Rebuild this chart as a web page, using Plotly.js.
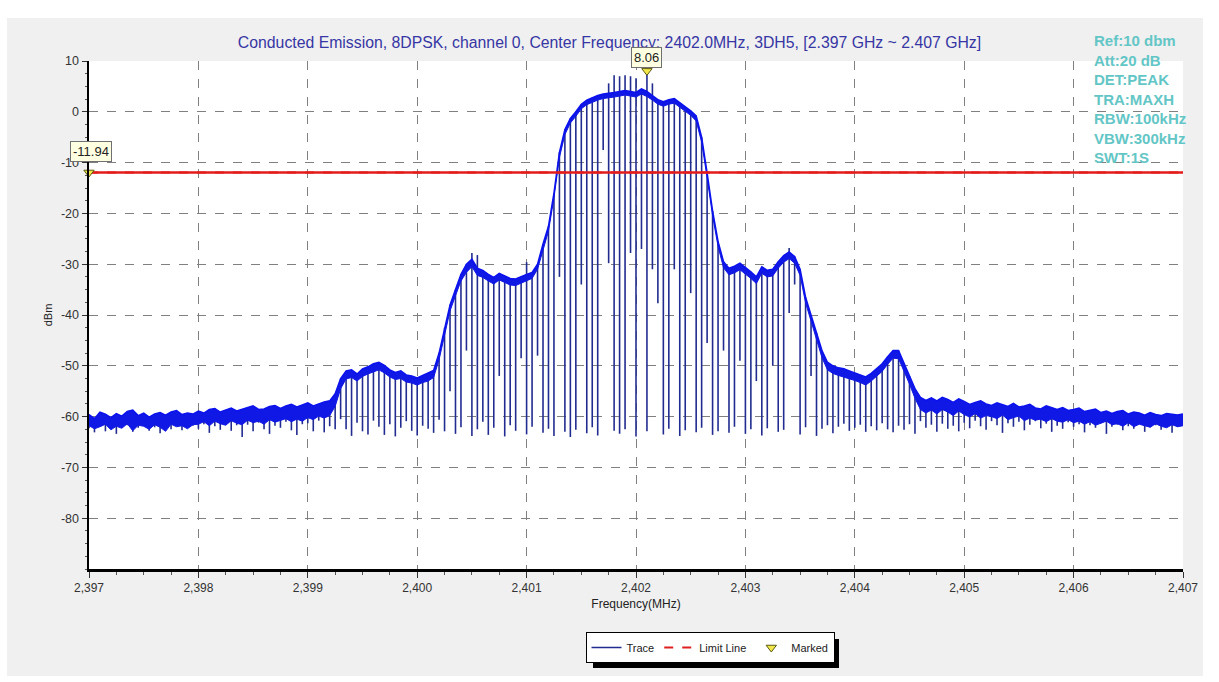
<!DOCTYPE html>
<html><head><meta charset="utf-8">
<script src="https://cdn.plot.ly/plotly-3.0.1.min.js"></script>
<style>html,body{margin:0;padding:0;background:#fff}#chart{width:1219px;height:682px}</style>
</head><body><div id="chart"></div>
<script>
// ---- sweep grid (analyzer sample points) ----
const sweepStartMHz = 2397.0;
const sweepStepMHz = 0.05;

// ---- upper edge of the trace band, one value per sample (dBm) ----
const envelopeDbm = [
 -59.6,-60.4,-59.1,-59.5,-60.2,-59.4,-59.9,-59.0,-58.7,-59.8,-59.3,-60.1,-59.5,-59.2,-59.7,-59.1,-58.8,-59.6,-59.3,-59.5,
 -58.9,-59.3,-58.6,-58.4,-59.1,-58.7,-58.3,-58.9,-58.6,-58.2,-57.9,-58.6,-58.5,-58.0,-57.8,-58.4,-57.9,-57.6,-58.1,-57.7,
 -57.3,-57.9,-57.5,-57.1,-56.9,-55.5,-52.5,-51.0,-50.8,-51.6,-50.6,-50.2,-49.6,-49.3,-49.9,-50.8,-51.3,-51.0,-51.8,-52.0,
 -52.4,-51.9,-51.5,-50.9,-47.5,-42.5,-38.0,-35.0,-32.0,-30.0,-29.0,-30.8,-31.2,-32.0,-32.6,-31.8,-32.3,-32.8,-32.9,-32.4,
 -32.0,-31.6,-30.0,-26.0,-22.5,-16.0,-8.0,-3.5,-1.3,0.0,1.5,2.3,2.8,3.2,3.5,3.6,3.8,4.0,4.2,4.0,
 3.8,4.5,4.0,3.2,2.4,2.0,2.4,2.6,1.8,1.0,0.2,-0.8,-5.0,-12.0,-19.5,-25.5,-29.5,-30.8,-30.4,-29.8,
 -30.6,-31.5,-32.5,-30.5,-31.2,-31.0,-29.5,-28.3,-27.6,-28.5,-31.0,-36.5,-40.0,-43.5,-47.0,-49.3,-50.0,-50.4,-50.6,-51.0,
 -51.4,-51.8,-52.2,-51.5,-50.6,-49.6,-48.2,-47.0,-47.0,-49.5,-52.0,-54.5,-56.2,-56.8,-56.3,-56.9,-56.2,-56.6,-57.2,-56.5,
 -57.0,-57.6,-57.2,-56.9,-57.5,-57.8,-57.3,-57.6,-58.0,-57.4,-58.1,-57.9,-57.6,-58.3,-58.5,-57.9,-58.2,-58.6,-58.2,-58.8,
 -58.6,-58.3,-59.0,-58.7,-58.5,-59.2,-58.9,-59.4,-59.0,-58.8,-59.5,-59.1,-59.3,-59.7,-59.2,-59.6,-59.8,-59.4,-59.6,-59.7,
 -59.5
];

// ---- lower edge of the solid trace band, one value per sample (dBm) ----
const bandLowDbm = [
 -61.8,-62.4,-62.0,-61.5,-62.6,-61.9,-62.3,-61.4,-62.8,-61.7,-61.9,-62.5,-61.6,-62.1,-62.9,-61.5,-62.0,-61.8,-62.4,-61.6,
 -61.5,-61.0,-61.8,-60.9,-61.4,-61.7,-60.8,-61.3,-61.6,-60.7,-61.2,-60.9,-61.5,-60.6,-61.1,-60.8,-60.4,-61.0,-60.5,-60.9,
 -60.2,-60.6,-59.9,-60.3,-59.8,-58.0,-54.5,-52.6,-52.3,-53.0,-52.1,-51.6,-51.2,-50.8,-51.4,-52.2,-52.7,-52.5,-53.2,-53.4,
 -53.8,-53.3,-53.0,-52.3,-48.8,-43.8,-39.2,-36.2,-33.3,-31.6,-30.5,-32.2,-32.6,-33.3,-33.9,-33.1,-33.6,-34.1,-34.2,-33.7,
 -33.2,-32.8,-31.0,-27.0,-23.5,-17.0,-9.0,-4.5,-2.2,-0.9,0.6,1.4,1.9,2.3,2.6,2.7,2.9,3.1,3.3,3.1,
 2.9,3.5,3.0,2.3,1.5,1.1,1.5,1.7,0.9,0.1,-0.7,-1.8,-6.0,-13.0,-20.5,-26.5,-30.7,-32.1,-31.7,-31.1,
 -31.9,-32.8,-33.8,-31.8,-32.5,-32.3,-30.8,-29.6,-28.9,-29.8,-32.2,-37.6,-41.2,-44.8,-48.4,-50.8,-51.5,-51.9,-52.2,-52.5,
 -52.9,-53.3,-53.8,-53.0,-52.1,-51.1,-49.7,-48.5,-48.6,-51.0,-53.6,-56.4,-58.6,-59.3,-58.7,-59.5,-58.6,-59.1,-59.8,-58.9,
 -59.6,-60.1,-59.4,-60.3,-59.8,-60.0,-60.4,-59.7,-60.6,-60.2,-59.9,-60.8,-60.3,-60.7,-60.5,-61.0,-60.4,-60.9,-61.1,-60.6,
 -61.2,-60.9,-61.5,-61.0,-61.7,-61.3,-60.9,-61.6,-61.4,-61.9,-61.2,-62.0,-61.5,-61.8,-62.1,-61.4,-61.9,-62.2,-61.6,-62.0,
 -61.8
];

// ---- bottom of the vertical trace line at each sample (dBm) ----
const dipDbm = [
 -62.3,-63.1,-61.8,-62.9,-61.5,-63.4,-62.0,-61.7,-63.0,-62.2,-61.6,-62.8,-62.1,-63.3,-61.9,-62.5,-61.4,-62.7,-62.0,-61.8,
 -62.4,-61.5,-63.2,-61.9,-62.6,-61.3,-62.8,-61.7,-64.0,-61.6,-62.9,-61.2,-62.5,-63.4,-61.8,-62.2,-61.0,-62.7,-63.6,-61.5,
 -61.3,-62.9,-60.8,-63.1,-61.9,-62.5,-60.5,-62.5,-63.8,-61.2,-62.9,-63.5,-60.8,-62.0,-63.6,-61.5,-63.9,-62.2,-60.9,-62.8,
 -63.7,-61.8,-62.4,-63.2,-60.6,-62.9,-55.0,-63.4,-62.1,-47.0,-63.8,-62.5,-61.0,-63.6,-62.2,-52.0,-63.9,-61.7,-62.8,-48.5,
 -63.5,-62.0,-48.0,-63.2,-62.4,-63.8,-32.5,-63.0,-64.0,-62.6,-34.0,-63.3,-62.1,-63.7,-7.5,-29.8,-62.8,-63.4,-62.5,-27.8,
 -63.9,-27.0,-62.9,-31.0,-37.7,-63.5,-62.4,-31.0,-63.8,-62.7,-35.7,-63.1,-62.2,-45.5,-63.6,-62.9,-47.0,-63.2,-62.0,-49.0,
 -63.4,-62.5,-53.0,-63.7,-62.3,-50.0,-63.0,-62.6,-39.6,-34.0,-63.5,-62.1,-52.0,-63.8,-62.4,-61.7,-63.3,-62.0,-61.4,-62.8,
 -62.2,-61.6,-63.0,-61.9,-62.7,-61.3,-62.5,-63.1,-61.8,-62.6,-61.5,-63.4,-60.9,-62.2,-61.6,-63.0,-61.4,-62.4,-61.8,-62.9,
 -61.2,-62.3,-60.8,-61.9,-62.6,-60.9,-61.7,-63.2,-61.3,-62.0,-61.0,-62.7,-61.6,-60.9,-62.3,-61.4,-63.0,-61.8,-62.4,-61.1,
 -62.0,-61.5,-63.1,-61.7,-62.2,-61.3,-63.4,-62.0,-61.6,-62.7,-61.9,-62.4,-61.2,-63.0,-62.1,-61.7,-62.6,-61.5,-63.2,-62.0,
 -61.6
];

// ---- narrow upward spikes above the envelope ----
const spikeFreqMHz = [2400.50, 2400.55, 2401.00, 2401.75, 2401.80, 2401.85, 2401.90, 2401.95, 2402.00, 2402.10, 2402.15, 2403.40];
const spikeDbm     = [-27.8,   -28.2,   -29.6,   5.6,     7.2,     7.0,     7.2,     7.0,     6.6,     8.06,    5.6,     -26.8];

// ---- limit line and markers ----
const limitDbm = -11.94;
const markFreqMHz = [2397.0, 2402.10];
const markDbm = [-11.94, 8.06];
const markLabels = ['-11.94', '8.06'];

// ---- axis ticks ----
const xTickVals = [2397, 2398, 2399, 2400, 2401, 2402, 2403, 2404, 2405, 2406, 2407];
const xTickLabels = ['2,397', '2,398', '2,399', '2,400', '2,401', '2,402', '2,403', '2,404', '2,405', '2,406', '2,407'];
const yTickVals = [10, 0, -10, -20, -30, -40, -50, -60, -70, -80];
const yTickLabels = ['10', '0', '-10', '-20', '-30', '-40', '-50', '-60', '-70', '-80'];

// ---- texts ----
const titleText = 'Conducted Emission, 8DPSK, channel 0, Center Frequency: 2402.0MHz, 3DH5, [2.397 GHz ~ 2.407 GHz]';
const analyzerSettings = ['Ref:10 dbm', 'Att:20 dB', 'DET:PEAK', 'TRA:MAXH', 'RBW:100kHz', 'VBW:300kHz', 'SWT:1S'];

// ===== build traces =====
const freqMHz = envelopeDbm.map((_, i) => +(sweepStartMHz + i * sweepStepMHz).toFixed(2));
const spikeAt = {};
spikeFreqMHz.forEach((f, k) => { spikeAt[Math.round((f - sweepStartMHz) / sweepStepMHz)] = spikeDbm[k]; });

const vx = [], vy = [];
freqMHz.forEach((f, i) => {
  const top = (spikeAt[i] !== undefined) ? Math.max(spikeAt[i], envelopeDbm[i]) : envelopeDbm[i];
  vx.push(f, f, null);
  vy.push(top, dipDbm[i], null);
});

const FONT = 'Liberation Sans, Arial, sans-serif';
const W = 1219, H = 682, L = 89, R = 36, T = 61, B = 113;
const pw = W - L - R, ph = H - T - B;
const px2x = p => (p - L) / pw;
const py2y = p => (H - B - p) / ph;
const xEnds = [xTickVals[0], xTickVals[xTickVals.length - 1]];

const traces = [
  { x: vx, y: vy, mode: 'lines', name: 'Trace', connectgaps: false,
    line: { color: '#222c90', width: 1.6 }, showlegend: true },
  { x: freqMHz, y: bandLowDbm, mode: 'lines', name: 'bandLow', showlegend: false,
    line: { color: '#1018e6', width: 1 } },
  { x: freqMHz, y: envelopeDbm, mode: 'lines', name: 'env', showlegend: false, fill: 'tonexty', fillcolor: '#1018e6',
    line: { color: '#0b12ee', width: 1.5 } },
  { x: xEnds, y: [limitDbm, limitDbm], mode: 'lines',
    name: 'Limit Line', line: { color: '#e02020', width: 2, dash: 'dash' }, showlegend: true },
  { x: xEnds, y: [limitDbm, limitDbm], mode: 'lines',
    name: 'limit', line: { color: '#e41b1b', width: 2.5 }, showlegend: false },
  { x: markFreqMHz, y: markDbm, mode: 'markers', name: 'Marked', cliponaxis: false,
    marker: { symbol: 'triangle-down', size: 9, color: '#f3e84a', line: { color: '#5a5a10', width: 1 } } }
];

const annotations = [
  { xref: 'x', yref: 'y', x: markFreqMHz[0], y: markDbm[0], text: markLabels[0], showarrow: false,
    yshift: 21, xshift: 2, bgcolor: '#ffffe1', bordercolor: '#707070', borderwidth: 1, borderpad: 2,
    font: { family: FONT, size: 13, color: '#222' } },
  { xref: 'x', yref: 'y', x: markFreqMHz[1], y: markDbm[1], text: markLabels[1], showarrow: false,
    yshift: 13, bgcolor: '#ffffe1', bordercolor: '#707070', borderwidth: 1, borderpad: 2,
    font: { family: FONT, size: 13, color: '#222' } },
  { xref: 'paper', yref: 'paper', x: px2x(1092), y: py2y(30), xanchor: 'left', yanchor: 'top', align: 'left',
    showarrow: false, text: analyzerSettings.map(s => '<b>' + s + '</b>').join('<br>'),
    font: { family: FONT, size: 15, color: '#63c6c6' } }
];

const shapes = [
  { type: 'rect', xref: 'paper', yref: 'paper', x0: px2x(0), x1: px2x(W), y0: py2y(0), y1: py2y(18), fillcolor: '#ffffff', line: { width: 0 } },
  { type: 'rect', xref: 'paper', yref: 'paper', x0: px2x(0), x1: px2x(W), y0: py2y(676), y1: py2y(H), fillcolor: '#ffffff', line: { width: 0 } },
  { type: 'rect', xref: 'paper', yref: 'paper', x0: px2x(0), x1: px2x(7), y0: py2y(0), y1: py2y(H), fillcolor: '#ffffff', line: { width: 0 } },
  { type: 'rect', xref: 'paper', yref: 'paper', x0: px2x(1203), x1: px2x(W), y0: py2y(0), y1: py2y(H), fillcolor: '#ffffff', line: { width: 0 } },
  { type: 'rect', xref: 'paper', yref: 'paper', x0: px2x(593), x1: px2x(839), y0: py2y(639), y1: py2y(668), fillcolor: '#000000', line: { width: 0 } }
];

const layout = {
  width: W, height: H,
  margin: { l: L, r: R, t: T, b: B, pad: 0 },
  paper_bgcolor: '#f0f0f0', plot_bgcolor: '#ffffff',
  font: { family: FONT, size: 12, color: '#333' },
  title: { text: titleText, x: 0.5, xref: 'container', xanchor: 'center', y: 1 - 42 / H, yref: 'container', yanchor: 'middle',
    font: { family: FONT, size: 15.8, color: '#3636a4' } },
  xaxis: { range: [2397, 2407], tickvals: xTickVals, ticktext: xTickLabels, showline: true, linecolor: '#000', linewidth: 2.5,
    ticks: 'outside', ticklen: 6, tickcolor: '#333', showgrid: true, gridcolor: '#808080', griddash: 'dash', gridwidth: 1,
    minor: { dtick: 0.25, ticks: 'outside', ticklen: 3, tickcolor: '#555', showgrid: false },
    zeroline: false, tickfont: { family: FONT, size: 12, color: '#333' },
    title: { text: 'Frequency(MHz)', font: { family: FONT, size: 12, color: '#222' }, standoff: 6 } },
  yaxis: { range: [-90, 10], tickvals: yTickVals, ticktext: yTickLabels, showline: true, linecolor: '#000', linewidth: 2.5,
    ticks: 'outside', ticklen: 5, tickcolor: '#333', showgrid: true, gridcolor: '#808080', griddash: 'dash', gridwidth: 1,
    minor: { dtick: 2.5, ticks: 'outside', ticklen: 2, tickcolor: '#555', showgrid: false },
    zeroline: false, tickfont: { family: FONT, size: 12.5, color: '#333' },
    title: { text: 'dBm', font: { family: FONT, size: 11, color: '#222' }, standoff: 6 } },
  showlegend: true,
  legend: { orientation: 'h', x: px2x(710), xanchor: 'center', y: py2y(632), yanchor: 'top', traceorder: 'normal',
    bgcolor: '#ffffff', bordercolor: '#000', borderwidth: 1, itemwidth: 30,
    font: { family: FONT, size: 11, color: '#222' } },
  annotations, shapes, hovermode: false
};

Plotly.newPlot('chart', traces, layout, { staticPlot: true, displayModeBar: false });
</script>
</body></html>
